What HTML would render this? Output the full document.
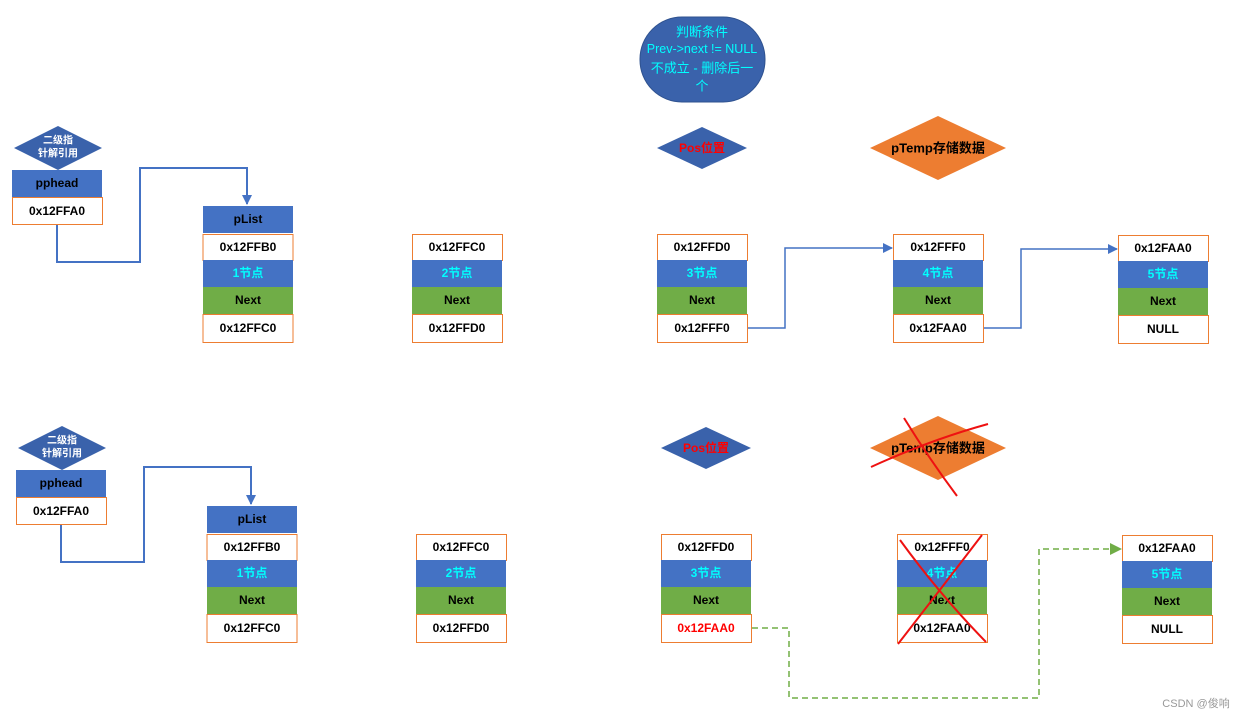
<!DOCTYPE html>
<html><head><meta charset="utf-8"><style>
body{margin:0;background:#fff}
svg text{font-family:"Liberation Sans","Noto Sans CJK SC",sans-serif;font-weight:bold;font-size:12px;text-anchor:middle;dominant-baseline:central}
</style></head><body>
<svg width="1244" height="719" viewBox="0 0 1244 719" xmlns="http://www.w3.org/2000/svg">
<defs>
<marker id="ab" markerWidth="10" markerHeight="10" refX="9" refY="5" orient="auto" markerUnits="userSpaceOnUse"><path d="M0,0L10,5L0,10z" fill="#4472C4"/></marker>
<marker id="ag" markerWidth="12" markerHeight="12" refX="11" refY="6" orient="auto" markerUnits="userSpaceOnUse"><path d="M0,0L12,6L0,12z" fill="#70AD47"/></marker>
</defs>
<!-- oval -->
<rect x="640" y="17" width="125" height="85" rx="42" fill="#3A62AB" stroke="#2F528F"/>
<g style="font-weight:normal;font-size:13px" fill="#00FFFF">
<text x="702" y="32" style="font-weight:normal;font-size:13px">判断条件</text>
<text x="702" y="49" style="font-weight:normal;font-size:12.5px">Prev-&gt;next != NULL</text>
<text x="702" y="68" style="font-weight:normal;font-size:13px">不成立 - 删除后一</text>
<text x="702" y="86" style="font-weight:normal;font-size:13px">个</text>
</g>
<!-- row generator -->
<g id="top">
<polygon points="14,148 58,126 102,148 58,170" fill="#3A62AB"/>
<text x="58" y="141" fill="#fff" style="font-size:10px">二级指</text>
<text x="58" y="154" fill="#fff" style="font-size:10px">针解引用</text>
<rect x="12" y="170" width="90" height="27" fill="#4472C4"/><text x="57" y="183">pphead</text>
<rect x="12.5" y="197.5" width="90" height="27" fill="#fff" stroke="#ED7D31"/><text x="57" y="211">0x12FFA0</text>
<polyline points="57,225 57,262 140,262 140,168 247,168 247,204" fill="none" stroke="#4472C4" stroke-width="2" marker-end="url(#ab)"/>
<rect x="203" y="206" width="90" height="27" fill="#4472C4"/><text x="248" y="219">pList</text>
</g>
<!-- nodes top -->
<g>
<rect x="203" y="234.5" width="90" height="26" fill="#fff" stroke="#ED7D31"/><text x="248" y="247">0x12FFB0</text>
<rect x="203" y="260" width="90" height="27" fill="#4472C4"/><text x="248" y="273" fill="#00FFFF">1节点</text>
<rect x="203" y="287" width="90" height="27" fill="#70AD47"/><text x="248" y="300">Next</text>
<rect x="203" y="314.5" width="90" height="28" fill="#fff" stroke="#ED7D31"/><text x="248" y="328">0x12FFC0</text>

<rect x="412.5" y="234.5" width="90" height="26" fill="#fff" stroke="#ED7D31"/><text x="457" y="247">0x12FFC0</text>
<rect x="412" y="260" width="90" height="27" fill="#4472C4"/><text x="457" y="273" fill="#00FFFF">2节点</text>
<rect x="412" y="287" width="90" height="27" fill="#70AD47"/><text x="457" y="300">Next</text>
<rect x="412.5" y="314.5" width="90" height="28" fill="#fff" stroke="#ED7D31"/><text x="457" y="328">0x12FFD0</text>

<rect x="657.5" y="234.5" width="90" height="26" fill="#fff" stroke="#ED7D31"/><text x="702" y="247">0x12FFD0</text>
<rect x="657" y="260" width="90" height="27" fill="#4472C4"/><text x="702" y="273" fill="#00FFFF">3节点</text>
<rect x="657" y="287" width="90" height="27" fill="#70AD47"/><text x="702" y="300">Next</text>
<rect x="657.5" y="314.5" width="90" height="28" fill="#fff" stroke="#ED7D31"/><text x="702" y="328">0x12FFF0</text>

<rect x="893.5" y="234.5" width="90" height="26" fill="#fff" stroke="#ED7D31"/><text x="938" y="247">0x12FFF0</text>
<rect x="893" y="260" width="90" height="27" fill="#4472C4"/><text x="938" y="273" fill="#00FFFF">4节点</text>
<rect x="893" y="287" width="90" height="27" fill="#70AD47"/><text x="938" y="300">Next</text>
<rect x="893.5" y="314.5" width="90" height="28" fill="#fff" stroke="#ED7D31"/><text x="938" y="328">0x12FAA0</text>

<rect x="1118.5" y="235.5" width="90" height="26" fill="#fff" stroke="#ED7D31"/><text x="1163" y="248">0x12FAA0</text>
<rect x="1118" y="261" width="90" height="27" fill="#4472C4"/><text x="1163" y="274" fill="#00FFFF">5节点</text>
<rect x="1118" y="288" width="90" height="27" fill="#70AD47"/><text x="1163" y="301">Next</text>
<rect x="1118.5" y="315.5" width="90" height="28" fill="#fff" stroke="#ED7D31"/><text x="1163" y="329">NULL</text>
<polyline points="748,328 785,328 785,248 892,248" fill="none" stroke="#4472C4" stroke-width="1.5" marker-end="url(#ab)"/>
<polyline points="984,328 1021,328 1021,249 1117,249" fill="none" stroke="#4472C4" stroke-width="1.5" marker-end="url(#ab)"/>
<polygon points="657,148 702,127 747,148 702,169" fill="#3A62AB"/><text x="702" y="148" fill="#FF0000">Pos位置</text>
<polygon points="870,148 938,116 1006,148 938,180" fill="#ED7D31"/><text x="938" y="148" style="font-size:13px">pTemp存储数据</text>
</g>
<!-- bottom -->
<g>
<polygon points="18,448 62,426 106,448 62,470" fill="#3A62AB"/>
<text x="62" y="441" fill="#fff" style="font-size:10px">二级指</text>
<text x="62" y="454" fill="#fff" style="font-size:10px">针解引用</text>
<rect x="16" y="470" width="90" height="27" fill="#4472C4"/><text x="61" y="483">pphead</text>
<rect x="16.5" y="497.5" width="90" height="27" fill="#fff" stroke="#ED7D31"/><text x="61" y="511">0x12FFA0</text>
<polyline points="61,525 61,562 144,562 144,467 251,467 251,504" fill="none" stroke="#4472C4" stroke-width="2" marker-end="url(#ab)"/>
<rect x="207" y="506" width="90" height="27" fill="#4472C4"/><text x="252" y="519">pList</text>

<rect x="207" y="534.5" width="90" height="26" fill="#fff" stroke="#ED7D31"/><text x="252" y="547">0x12FFB0</text>
<rect x="207" y="560" width="90" height="27" fill="#4472C4"/><text x="252" y="573" fill="#00FFFF">1节点</text>
<rect x="207" y="587" width="90" height="27" fill="#70AD47"/><text x="252" y="600">Next</text>
<rect x="207" y="614.5" width="90" height="28" fill="#fff" stroke="#ED7D31"/><text x="252" y="628">0x12FFC0</text>

<rect x="416.5" y="534.5" width="90" height="26" fill="#fff" stroke="#ED7D31"/><text x="461" y="547">0x12FFC0</text>
<rect x="416" y="560" width="90" height="27" fill="#4472C4"/><text x="461" y="573" fill="#00FFFF">2节点</text>
<rect x="416" y="587" width="90" height="27" fill="#70AD47"/><text x="461" y="600">Next</text>
<rect x="416.5" y="614.5" width="90" height="28" fill="#fff" stroke="#ED7D31"/><text x="461" y="628">0x12FFD0</text>

<rect x="661.5" y="534.5" width="90" height="26" fill="#fff" stroke="#ED7D31"/><text x="706" y="547">0x12FFD0</text>
<rect x="661" y="560" width="90" height="27" fill="#4472C4"/><text x="706" y="573" fill="#00FFFF">3节点</text>
<rect x="661" y="587" width="90" height="27" fill="#70AD47"/><text x="706" y="600">Next</text>
<rect x="661.5" y="614.5" width="90" height="28" fill="#fff" stroke="#ED7D31"/><text x="706" y="628" fill="#FF0000">0x12FAA0</text>

<rect x="897.5" y="534.5" width="90" height="26" fill="#fff" stroke="#ED7D31"/><text x="942" y="547">0x12FFF0</text>
<rect x="897" y="560" width="90" height="27" fill="#4472C4"/><text x="942" y="573" fill="#00FFFF">4节点</text>
<rect x="897" y="587" width="90" height="27" fill="#70AD47"/><text x="942" y="600">Next</text>
<rect x="897.5" y="614.5" width="90" height="28" fill="#fff" stroke="#ED7D31"/><text x="942" y="628">0x12FAA0</text>

<rect x="1122.5" y="535.5" width="90" height="26" fill="#fff" stroke="#ED7D31"/><text x="1167" y="548">0x12FAA0</text>
<rect x="1122" y="561" width="90" height="27" fill="#4472C4"/><text x="1167" y="574" fill="#00FFFF">5节点</text>
<rect x="1122" y="588" width="90" height="27" fill="#70AD47"/><text x="1167" y="601">Next</text>
<rect x="1122.5" y="615.5" width="90" height="28" fill="#fff" stroke="#ED7D31"/><text x="1167" y="629">NULL</text>

<polyline points="752,628 789,628 789,698 1039,698 1039,549 1121,549" fill="none" stroke="#70AD47" stroke-width="1.5" stroke-dasharray="6,4" marker-end="url(#ag)"/>
<polygon points="661,448 706,427 751,448 706,469" fill="#3A62AB"/><text x="706" y="448" fill="#FF0000">Pos位置</text>
<polygon points="870,448 938,416 1006,448 938,480" fill="#ED7D31"/><text x="938" y="448" style="font-size:13px">pTemp存储数据</text>
<path d="M871,467 Q930,440 988,424 M904,418 Q930,460 957,496" fill="none" stroke="#EE1111" stroke-width="2"/>
<path d="M900,540 Q940,595 986,642 M982,535 Q940,590 898,644" fill="none" stroke="#EE1111" stroke-width="2"/>
</g>
<text x="1196" y="704" fill="#999" style="font-weight:normal;font-size:11px">CSDN @俊响</text>
</svg>
</body></html>
